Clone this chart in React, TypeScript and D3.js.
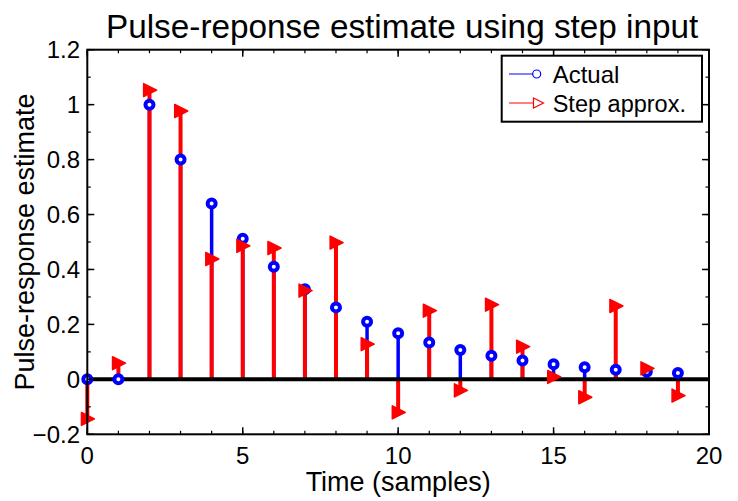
import React from "react";
import * as d3 from "d3";

const samples = [0,1,2,3,4,5,6,7,8,9,10,11,12,13,14,15,16,17,18,19];
const actual = [0,0,1,0.8,0.64,0.512,0.41,0.328,0.262,0.21,0.168,0.134,0.107,0.086,0.069,0.055,0.044,0.035,0.028,0.023];
const stepApprox = [-0.144,0.059,1.053,0.977,0.438,0.486,0.478,0.323,0.498,0.128,-0.12,0.25,-0.04,0.272,0.119,0.009,-0.065,0.267,0.04,-0.059];
const xTicks = [0,5,10,15,20];
const yTicks = [-0.2,0,0.2,0.4,0.6,0.8,1,1.2];
const xMinor = d3.range(0,21,1);
const yMinor = d3.range(-2,13,1).map(v=>v/10);
const legendLabels = ["Actual","Step approx."];

const W = 738, H = 501;
const L = 87.3, R = 709, T = 49.7, B = 434.3;
const font = "'Liberation Sans', Arial, Helvetica, sans-serif";

export default function App() {
  const x = d3.scaleLinear().domain([0,20]).range([L,R]);
  const y = d3.scaleLinear().domain([-0.2,1.2]).range([B,T]);
  const fmt = (v:number) => v<0 ? "\u2212"+String(Math.abs(+v.toFixed(1))) : String(+v.toFixed(1));
  const tri = (cx:number, cy:number, s:number) => `M${cx-s*0.45},${cy-s*0.5}L${cx+s*0.55},${cy}L${cx-s*0.45},${cy+s*0.5}Z`;
  return (
    <svg width={W} height={H} style={{position:"absolute",left:0,top:0,background:"#fff"}} fontFamily={font}>
      <rect x={0} y={0} width={W} height={H} fill="#fff"/>
      {/* blue stems */}
      {samples.map((s,i)=>(
        <line key={"bs"+i} x1={x(s)} x2={x(s)} y1={y(0)} y2={y(actual[i])} stroke="#0000ff" strokeWidth={3.5}/>
      ))}
      {/* red stems */}
      {samples.map((s,i)=>(
        <line key={"rs"+i} x1={x(s)} x2={x(s)} y1={y(0)} y2={y(stepApprox[i])} stroke="#ff0000" strokeWidth={4}/>
      ))}
      {/* baseline */}
      <line x1={x(0)} x2={x(20)} y1={y(0)} y2={y(0)} stroke="#000" strokeWidth={4}/>
      {/* blue markers */}
      {samples.map((s,i)=>(
        <circle key={"bm"+i} cx={x(s)} cy={y(actual[i])} r={4} fill="#fff" stroke="#0000ff" strokeWidth={4}/>
      ))}
      {/* red markers */}
      {samples.map((s,i)=>(
        <path key={"rm"+i} d={tri(x(s), y(stepApprox[i]), 13)} fill="#ff0000" stroke="#ff0000" strokeWidth={1.5} strokeLinejoin="round"/>
      ))}
      {/* axes box */}
      <rect x={L} y={T} width={R-L} height={B-T} fill="none" stroke="#000" strokeWidth={2}/>
      {/* minor ticks */}
      {xMinor.map(v=>(
        <g key={"xm"+v}>
          <line x1={x(v)} x2={x(v)} y1={B} y2={B-3.5} stroke="#000" strokeWidth={1.2}/>
          <line x1={x(v)} x2={x(v)} y1={T} y2={T+3.5} stroke="#000" strokeWidth={1.2}/>
        </g>
      ))}
      {yMinor.map(v=>(
        <g key={"ym"+v}>
          <line x1={L} x2={L+3.5} y1={y(v)} y2={y(v)} stroke="#000" strokeWidth={1.2}/>
          <line x1={R} x2={R-3.5} y1={y(v)} y2={y(v)} stroke="#000" strokeWidth={1.2}/>
        </g>
      ))}
      {/* major ticks and labels */}
      {xTicks.map(v=>(
        <g key={"xt"+v}>
          <line x1={x(v)} x2={x(v)} y1={B} y2={B-7} stroke="#000" strokeWidth={1.5}/>
          <line x1={x(v)} x2={x(v)} y1={T} y2={T+7} stroke="#000" strokeWidth={1.5}/>
          <text x={x(v)} y={463.5} textAnchor="middle" fontSize={24}>{v}</text>
        </g>
      ))}
      {yTicks.map(v=>(
        <g key={"yt"+v}>
          <line x1={L} x2={L+7} y1={y(v)} y2={y(v)} stroke="#000" strokeWidth={1.5}/>
          <line x1={R} x2={R-7} y1={y(v)} y2={y(v)} stroke="#000" strokeWidth={1.5}/>
          <text x={80} y={y(v)+8.5} textAnchor="end" fontSize={24}>{fmt(v)}</text>
        </g>
      ))}
      {/* titles */}
      <text x={(L+R)/2+4} y={38} textAnchor="middle" fontSize={33.3}>Pulse-reponse estimate using step input</text>
      <text x={(L+R)/2} y={491} textAnchor="middle" fontSize={27}>Time (samples)</text>
      <text transform={`translate(34,${(T+B)/2}) rotate(-90)`} textAnchor="middle" fontSize={27}>Pulse-response estimate</text>
      {/* legend */}
      <rect x={501.7} y={55.7} width={200.3} height={66} fill="#fff" stroke="#000" strokeWidth={2}/>
      <line x1={509} x2={536.7} y1={74} y2={74} stroke="#0000ff" strokeWidth={1}/>
      <circle cx={536.7} cy={74} r={4} fill="#fff" stroke="#0000ff" strokeWidth={1.2}/>
      <text x={552.7} y={82.5} fontSize={24}>{legendLabels[0]}</text>
      <line x1={509} x2={536} y1={103} y2={103} stroke="#ff0000" strokeWidth={1}/>
      <path d={tri(538, 103, 10)} fill="#fff" stroke="#ff0000" strokeWidth={1.2}/>
      <text x={552.7} y={111.5} fontSize={23.5}>{legendLabels[1]}</text>
    </svg>
  );
}
